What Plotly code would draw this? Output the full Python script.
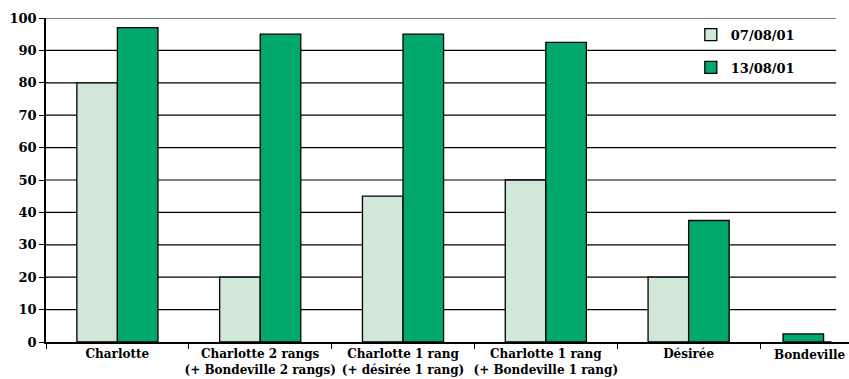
import plotly.graph_objects as go

categories = [
    "Charlotte",
    "Charlotte 2 rangs<br>(+ Bondeville 2 rangs)",
    "Charlotte 1 rang<br>(+ désirée 1 rang)",
    "Charlotte 1 rang<br>(+ Bondeville 1 rang)",
    "Désirée",
    "Bondeville",
]
series_names = ["07/08/01", "13/08/01"]
values_0708 = [80, 20, 45, 50, 20, 0]
values_1308 = [97, 95, 95, 92.5, 37.5, 2.5]
y_ticks = [0, 10, 20, 30, 40, 50, 60, 70, 80, 90, 100]

FONT = "DejaVu Serif"
BAR_W = 0.284
# last category is cut by the chart edge in the reference; its bar is drawn shifted
green_offsets = [0, 0, 0, 0, 0, -0.339]

fig = go.Figure()
fig.add_trace(go.Bar(
    x=categories, y=values_0708, name=series_names[0], legendgroup="a",
    width=BAR_W, offset=-BAR_W,
    marker=dict(color="#D1E7D7", line=dict(color="black", width=1.3)),
))
fig.add_trace(go.Bar(
    x=categories, y=values_1308, name=series_names[1], legendgroup="b",
    width=BAR_W, offset=green_offsets,
    marker=dict(color="#00A96B", line=dict(color="black", width=1.3)),
))

# horizontal gridlines at each y tick
for v in y_ticks[1:]:
    fig.add_shape(type="line", xref="paper", yref="y", x0=0, x1=0.984,
                  y0=v, y1=v, layer="below",
                  line=dict(color="black", width=1.2))

ticktext = categories[:-1] + [""]
fig.add_annotation(
    x=categories[-1], y=0, xref="x", yref="paper", text=categories[-1],
    showarrow=False, yanchor="top", xanchor="center", xshift=-21, yshift=-4,
    font=dict(family=FONT, size=12, color="black", weight="bold"),
)

fig.update_layout(
    width=849, height=379,
    margin=dict(l=46, r=0, t=18, b=37),
    paper_bgcolor="white", plot_bgcolor="white",
    font=dict(family=FONT, color="black", weight="bold"),
    showlegend=True,
    legend=dict(
        x=0.803, xanchor="left", y=0.995, yanchor="top",
        bgcolor="rgba(0,0,0,0)", tracegroupgap=13,
        font=dict(family=FONT, size=13, color="black", weight="bold"),
    ),
)
fig.update_xaxes(
    type="category", range=[-0.5, 5.123],
    tickmode="array", tickvals=categories, ticktext=ticktext,
    tickson="boundaries", ticks="outside", ticklen=5, tickcolor="black",
    showline=True, linecolor="black", linewidth=1.5,
    showgrid=False,
    tickfont=dict(family=FONT, size=12, color="black", weight="bold"),
    tickangle=0,
)
fig.update_yaxes(
    range=[0, 100], tickmode="array", tickvals=y_ticks,
    ticks="outside", ticklen=5,
    tickcolor="black", showline=True, linecolor="black", linewidth=1.5,
    showgrid=False, zeroline=False,
    tickfont=dict(family=FONT, size=13, color="black", weight="bold"),
)

fig.write_html("out.html")
